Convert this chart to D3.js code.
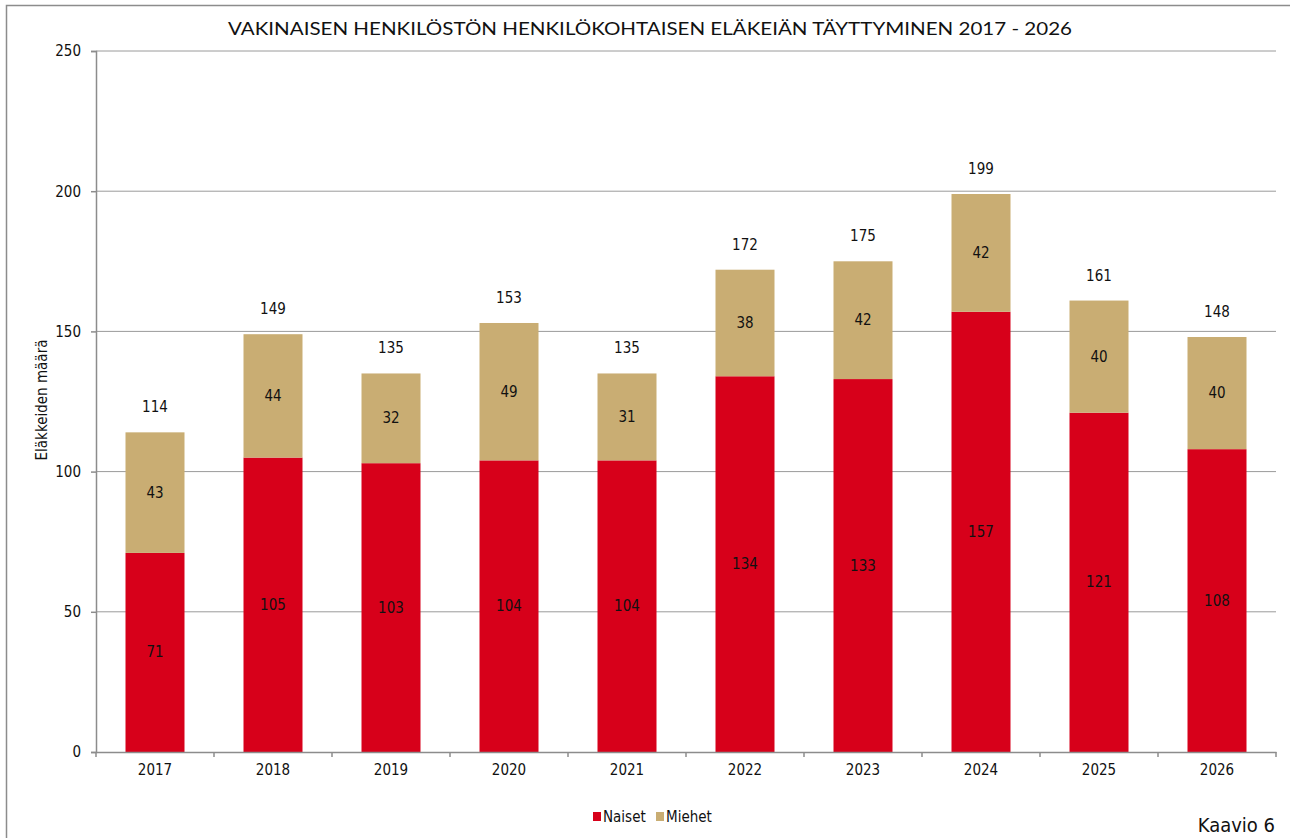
<!DOCTYPE html>
<html><head><meta charset="utf-8">
<script src="https://cdn.jsdelivr.net/npm/d3@7"></script>
<style>
body{margin:0;background:#fff;}
text{font-family:"Liberation Sans Narrow","Arial Narrow","DejaVu Sans Condensed",sans-serif;}
</style></head>
<body><svg id="c" width="1290" height="838"></svg>
<script>
const years = ["2017","2018","2019","2020","2021","2022","2023","2024","2025","2026"];
const naiset = [71,105,103,104,104,134,133,157,121,108];
const miehet = [43,44,32,49,31,38,42,42,40,40];
const yTicks = [0,50,100,150,200,250];
const seriesNames = ["Naiset","Miehet"];
const colors = ["#D7001A","#C9AD73"];
const title = "VAKINAISEN HENKILÖSTÖN HENKILÖKOHTAISEN ELÄKEIÄN TÄYTTYMINEN 2017 - 2026";

const svg = d3.select("#c");
const m = {l:96, r:1276, t:51, b:752};
const x = d3.scaleBand().domain(years).range([m.l, m.r]).paddingInner(0.5).paddingOuter(0.25);
const y = d3.scaleLinear().domain([0,250]).range([m.b, m.t]);

// outer border
svg.append("rect").attr("x",6.5).attr("y",5.5).attr("width",1400).attr("height",1000)
  .attr("fill","none").attr("stroke","#8c8c8c").attr("stroke-width",1.5);

// title
svg.append("text").attr("x",650).attr("y",35).attr("text-anchor","middle")
  .style("font-family","Lato, 'Open Sans', sans-serif").style("font-size","18px").attr("fill","#111")
  .attr("textLength",844).attr("lengthAdjust","spacingAndGlyphs").text(title);

// gridlines
svg.append("g").selectAll("line").data(yTicks.filter(d=>d>0)).join("line")
  .attr("x1",m.l).attr("x2",m.r).attr("y1",d=>y(d)).attr("y2",d=>y(d))
  .attr("stroke","#9a9a9a").attr("stroke-width",1);

// bars
const stacked = years.map((yr,i)=>({yr, vals:[naiset[i],miehet[i]]}));
const g = svg.append("g");
stacked.forEach(d=>{
  let base=0;
  d.vals.forEach((v,j)=>{
    g.append("rect").attr("x",x(d.yr)).attr("width",x.bandwidth())
      .attr("y",y(base+v)).attr("height",y(base)-y(base+v)).attr("fill",colors[j]);
    g.append("text").attr("x",x(d.yr)+x.bandwidth()/2).attr("y",(y(base)+y(base+v))/2+5)
      .attr("text-anchor","middle").style("font-size","15px").attr("fill","#111").text(v);
    base+=v;
  });
  g.append("text").attr("x",x(d.yr)+x.bandwidth()/2).attr("y",y(base)-20)
    .attr("text-anchor","middle").style("font-size","15px").attr("fill","#111").text(base);
});

// y axis
const ya = svg.append("g").attr("transform",`translate(${m.l},0)`)
  .call(d3.axisLeft(y).tickValues(yTicks).tickSize(5).tickPadding(10));
ya.select(".domain").attr("stroke","#8c8c8c").attr("stroke-width",1.5);
ya.selectAll(".tick line").attr("stroke","#8c8c8c").attr("stroke-width",1.5);
ya.selectAll("text").style("font-size","15px").style("font-family",null).attr("fill","#111");

// x axis
const xa = svg.append("g").attr("transform",`translate(0,${m.b})`)
  .call(d3.axisBottom(x).tickSize(0).tickPadding(12));
xa.select(".domain").attr("stroke","#8c8c8c").attr("stroke-width",1.5);
xa.selectAll("text").style("font-size","15px").style("font-family",null).attr("fill","#111");
const step = x.step();
xa.selectAll(".sep").data(d3.range(years.length+1)).join("line").attr("class","sep")
  .attr("x1",i=>m.l+i*step).attr("x2",i=>m.l+i*step).attr("y1",0).attr("y2",5)
  .attr("stroke","#8c8c8c").attr("stroke-width",1.5);

// y label
svg.append("text").attr("transform","translate(47,400) rotate(-90)").attr("text-anchor","middle")
  .style("font-size","15px").attr("fill","#111").text("Eläkkeiden määrä");

// legend
const legX = [593,656];
seriesNames.forEach((n,i)=>{
  svg.append("rect").attr("x",legX[i]).attr("y",812).attr("width",8).attr("height",9).attr("fill",colors[i]);
  svg.append("text").attr("x",legX[i]+10).attr("y",822).style("font-size","15px").attr("fill","#111").text(n);
});

// footer
svg.append("text").attr("x",1275).attr("y",832).attr("text-anchor","end")
  .style("font-size","20px").attr("fill","#111").text("Kaavio 6");
</script></body></html>
